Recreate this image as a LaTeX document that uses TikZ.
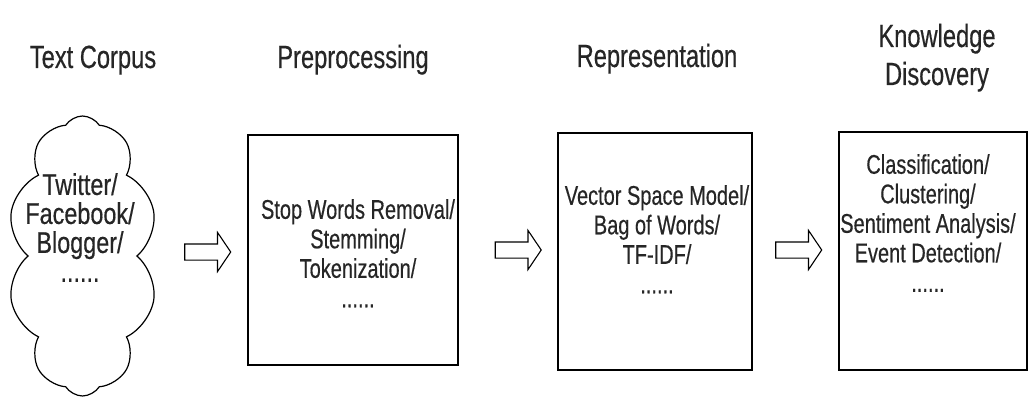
\documentclass[tikz,border=0pt]{standalone}
\usepackage{fontspec}
\usetikzlibrary{shapes.symbols,shapes.arrows}
\newfontfamily\narrowf[FakeStretch=0.74,FakeBold=0.4]{Liberation Sans}
\newfontfamily\cloudf[FakeStretch=0.78,FakeBold=0.4]{Liberation Sans}
\definecolor{txt}{HTML}{262626}
\tikzset{
  title/.style={font=\narrowf\fontsize{32}{38}\selectfont, text=txt, anchor=base, inner sep=0pt},
  body/.style={font=\narrowf\fontsize{27}{29.5}\selectfont, text=txt, align=center, anchor=north, inner sep=0pt},
  cloudbody/.style={font=\cloudf\fontsize{30}{29}\selectfont, text=txt, align=center, anchor=north, inner sep=0pt},
  stagebox/.style={draw=black, line width=1.8pt, fill=white, inner sep=0pt},
  blockarrow/.style={single arrow, draw=black, line width=1.1pt, fill=white, inner sep=0pt,
    text height=7.5pt, text depth=7.5pt, single arrow head extend=11.5pt,
    single arrow tip angle=112, minimum height=46pt},
}
\begin{document}
\begin{tikzpicture}[x=1pt,y=-1pt]
\useasboundingbox[fill=white] (0,0) rectangle (1029,409);
% titles
\node[title] (t0) at (93,68) {Text Corpus};
\node[title] (t1) at (353,68) {Preprocessing};
\node[title] (t2) at (657,67) {Representation};
\node[title] (t3a) at (937,47) {Knowledge};
\node[title] (t3b) at (937,85) {Discovery};
% cloud
\node[cloud, draw=black, line width=1.2pt, cloud puffs=10, cloud puff arc=115, aspect=0.54,
      minimum width=150pt, minimum height=280pt, inner sep=0pt] (cloud) at (82.5,256) {};
\node[cloudbody] (cloudtxt) at (80,173) {Twitter/\\Facebook/\\Blogger/\\......};
% boxes
\node[stagebox, minimum width=210pt, minimum height=230pt] (b1) at (353,250) {};
\node[body] (b1txt) at (358,199) {Stop Words Removal/\\Stemming/\\Tokenization/\\......};
\node[stagebox, minimum width=194pt, minimum height=237pt] (b2) at (655,251.5) {};
\node[body] (b2txt) at (657,185) {Vector Space Model/\\Bag of Words/\\TF-IDF/\\......};
\node[stagebox, minimum width=188pt, minimum height=238pt] (b3) at (933,251) {};
\node[body] (b3txt) at (928,154) {Classification/\\Clustering/\\Sentiment Analysis/\\Event Detection/\\......};
% arrows
\node[blockarrow] (a1) at (205,252) {};
\node[blockarrow] (a2) at (515.5,250) {};
\node[blockarrow] (a3) at (796,250) {};
\end{tikzpicture}
\end{document}
